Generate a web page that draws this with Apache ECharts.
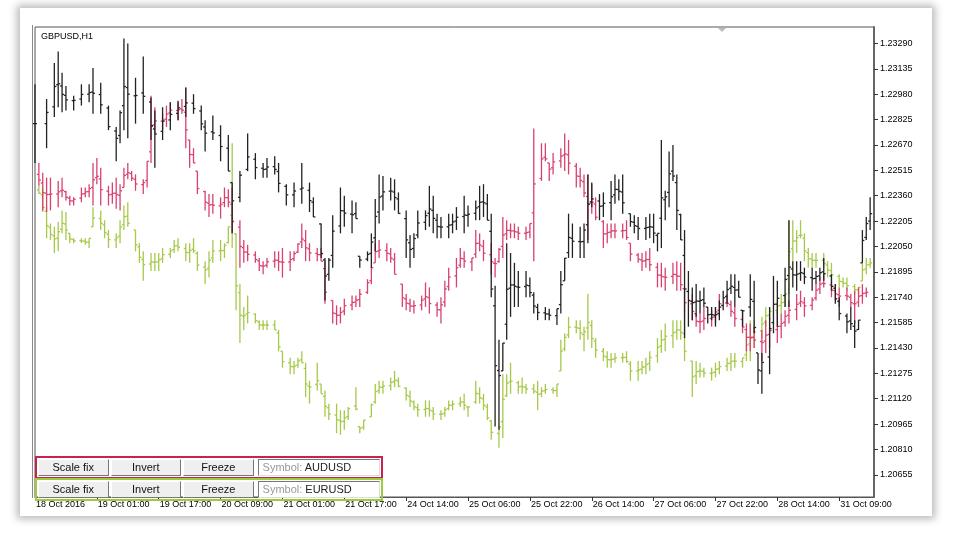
<!DOCTYPE html>
<html>
<head>
<meta charset="utf-8">
<title>GBPUSD,H1</title>
<script src="https://cdn.jsdelivr.net/npm/echarts@6/dist/echarts.min.js"></script>
<style>
  body { margin:0; background:#fff; font-family:"Liberation Sans", Arial, sans-serif; }
  #frame { position:absolute; left:20px; top:8px; width:912px; height:508px; box-shadow:0 0 8px 3px rgba(0,0,0,0.28); background:#fff; }
  #main { position:absolute; left:0; top:0; width:960px; height:540px; }
  .row { position:absolute; left:35px; width:342px; height:17px; display:flex; gap:2px; padding:1px; }
  .btn { width:70px; height:15px; background:#efefef; border:1px solid; border-color:#fff #777 #777 #fff; font-size:11px; line-height:15px; text-align:center; color:#111; }
  .sym { width:119px; height:15px; margin-left:2px; background:#fff; border:1px solid; border-color:#777 #ddd #ddd #777; font-size:11px; line-height:15px; padding-left:4px; color:#222; }
  .sym span { color:#999; }
</style>
</head>
<body>
<div id="frame"></div>
<div id="main"></div>
<div class="row" style="top:456px;border:2px solid #c8234f;">
  <div class="btn">Scale fix</div><div class="btn">Invert</div><div class="btn">Freeze</div>
  <div class="sym"><span>Symbol: </span>AUDUSD</div>
</div>
<div class="row" style="top:478px;border:2px solid #9ccb3b;">
  <div class="btn">Scale fix</div><div class="btn">Invert</div><div class="btn">Freeze</div>
  <div class="sym"><span>Symbol: </span>EURUSD</div>
</div>
<script type="text/javascript">
// bar index (hours), high, low, all on the GBPUSD price scale
var gbpBars = [
[0,1.2304,1.2256],[3,1.2295,1.2265],[5,1.2317,1.2284],[6,1.2324,1.2290],[7,1.2311,1.2287],[8,1.2303,1.2288],
[10,1.2297,1.2288],[12,1.2304,1.2291],[14,1.2304,1.2293],[15,1.2314,1.2286],[17,1.2305,1.2286],[19,1.2291,1.2276],
[21,1.2278,1.2257],[22,1.2288,1.2268],[23,1.2332,1.2276],[24,1.2329,1.2271],[26,1.2308,1.2280],[28,1.2321,1.2286],
[30,1.2296,1.2270],[31,1.2288,1.2253],[33,1.2290,1.2270],[35,1.2293,1.2276],[37,1.2294,1.2282],[39,1.2302,1.2284],
[41,1.2298,1.2286],[43,1.2291,1.2276],[44,1.2282,1.2263],[46,1.2285,1.2270],[48,1.2279,1.2257],[50,1.2273,1.2251],
[51,1.2244,1.2213],[53,1.2251,1.2232],[55,1.2274,1.2251],[57,1.2262,1.2246],[59,1.2256,1.2247],[60,1.2259,1.2247],
[62,1.2260,1.2249],[63,1.2256,1.2238],[65,1.2243,1.2230],[67,1.2244,1.2229],[69,1.2256,1.2231],[71,1.2244,1.2226],
[72,1.2235,1.2223],[74,1.2219,1.2198],[75,1.2198,1.2172],
[76,1.2198,1.2184],[77,1.2224,1.2192],[79,1.2241,1.2213],[80,1.2236,1.2217],[82,1.2233,1.2213],[83,1.2232,1.2222],
[84,1.2199,1.2192],[86,1.2202,1.2196],[87,1.2213,1.2192],[88,1.2234,1.2202],[89,1.2249,1.2219],[90,1.2248,1.2227],
[92,1.2247,1.2233],[93,1.2246,1.2227],[94,1.2238,1.2225],[96,1.2227,1.2198],[97,1.2212,1.2192],[98,1.2213,1.2198],
[99,1.2227,1.2210],[101,1.2227,1.2215],[102,1.2242,1.2217],[103,1.2236,1.2213],[104,1.2225,1.2210],[105,1.2223,1.2210],
[107,1.2225,1.2210],[108,1.2225,1.2213],[109,1.2229,1.2215],[111,1.2236,1.2213],[112,1.2230,1.2217],[114,1.2233,1.2221],
[115,1.2242,1.2221],[116,1.2243,1.2223],[117,1.2237,1.2221],[118,1.2225,1.2174],[119,1.2181,1.2095],[120,1.2148,1.2093],
[121,1.2146,1.2129],[122,1.2207,1.2148],[123,1.2201,1.2162],[124,1.2195,1.2168],[125,1.2190,1.2168],[127,1.2190,1.2174],
[128,1.2186,1.2174],[129,1.2177,1.2164],[130,1.2170,1.2160],[132,1.2168,1.2160],[133,1.2167,1.2160],[135,1.2167,1.2157],
[136,1.2190,1.2164],[137,1.2198,1.2184],[138,1.2225,1.2198],[139,1.2219,1.2198],[141,1.2217,1.2198],[142,1.2219,1.2198],
[143,1.2249,1.2207],[144,1.2244,1.2229],[146,1.2237,1.2221],[147,1.2238,1.2223],[149,1.2245,1.2221],[150,1.2249,1.2231],
[151,1.2246,1.2233],[152,1.2249,1.2225],[154,1.2225,1.2217],[155,1.2224,1.2213],[156,1.2223,1.2209],[158,1.2223,1.2209],
[159,1.2225,1.2210],[160,1.2225,1.2207],[161,1.2213,1.2202],[162,1.2270,1.2204],[163,1.2239,1.2221],[164,1.2263,1.2229],
[165,1.2267,1.2245],[166,1.2249,1.2215],[167,1.2225,1.2209],[168,1.2215,1.2149],[169,1.2190,1.2156],[170,1.2180,1.2160],
[171,1.2182,1.2162],[172,1.2178,1.2164],[173,1.2180,1.2168],[174,1.2168,1.2158],[175,1.2168,1.2160],[176,1.2168,1.2156],
[177,1.2172,1.2160],[178,1.2178,1.2166],[179,1.2184,1.2170],[180,1.2188,1.2176],[181,1.2188,1.2168],[182,1.2184,1.2174],
[183,1.2166,1.2156],[185,1.2188,1.2162],[186,1.2184,1.2152],[187,1.2140,1.2121],[188,1.2140,1.2115],[190,1.2168,1.2127],
[191,1.2187,1.2152],[192,1.2184,1.2156],[194,1.2192,1.2168],[195,1.2221,1.2168],[196,1.2196,1.2180],[197,1.2196,1.2178],
[198,1.2196,1.2184],[199,1.2192,1.2182],[201,1.2192,1.2178],[202,1.2190,1.2182],[203,1.2192,1.2184],[204,1.2198,1.2184],
[206,1.2188,1.2178],[207,1.2182,1.2170],[208,1.2174,1.2160],[210,1.2164,1.2152],[211,1.2168,1.2154],[212,1.2160,1.2143],
[213,1.2160,1.2154],[214,1.2215,1.2195],[215,1.2223,1.2209],[216,1.2235,1.2215]
];
var audBars = [
[1,1.2256,1.2242],[2,1.2250,1.2227],[3,1.2247,1.2226],[4,1.2247,1.2227],[6,1.2245,1.2229],[7,1.2247,1.2235],
[8,1.2239,1.2233],[9,1.2236,1.2230],[10,1.2235,1.2230],[12,1.2241,1.2232],[13,1.2241,1.2235],[14,1.2243,1.2235],
[15,1.2256,1.2230],[16,1.2259,1.2243],[17,1.2253,1.2230],[19,1.2242,1.2230],[20,1.2244,1.2231],[21,1.2247,1.2228],
[22,1.2243,1.2227],[23,1.2253,1.2241],[24,1.2256,1.2246],[25,1.2251,1.2245],[26,1.2249,1.2239],[28,1.2246,1.2237],
[29,1.2257,1.2241],[30,1.2297,1.2256],[31,1.2290,1.2274],[33,1.2286,1.2276],[34,1.2291,1.2278],[35,1.2293,1.2284],
[37,1.2293,1.2282],[38,1.2295,1.2286],[39,1.2302,1.2265],[40,1.2270,1.2253],[41,1.2265,1.2256],[42,1.2251,1.2237],
[44,1.2239,1.2227],[45,1.2237,1.2223],[46,1.2237,1.2225],[48,1.2235,1.2222],[49,1.2241,1.2229],[50,1.2240,1.2229],
[51,1.2241,1.2213],[53,1.2221,1.2192],[54,1.2209,1.2195],[55,1.2206,1.2196],[57,1.2202,1.2195],[58,1.2198,1.2190],
[59,1.2196,1.2188],[60,1.2198,1.2192],[62,1.2202,1.2192],[63,1.2202,1.2190],[64,1.2204,1.2186],[66,1.2202,1.2190],
[67,1.2202,1.2196],[68,1.2207,1.2201],[69,1.2219,1.2204],[70,1.2215,1.2196],[71,1.2207,1.2196],[73,1.2204,1.2196],
[74,1.2204,1.2196],[75,1.2196,1.2170],[77,1.2172,1.2158],[78,1.2169,1.2157],[79,1.2168,1.2158],[80,1.2173,1.2163],
[82,1.2175,1.2166],[83,1.2175,1.2168],[84,1.2179,1.2168],[86,1.2185,1.2176],[87,1.2193,1.2182],[88,1.2207,1.2195],
[89,1.2209,1.2198],[91,1.2207,1.2196],[92,1.2204,1.2195],[93,1.2201,1.2188],[95,1.2182,1.2168],[96,1.2176,1.2166],
[97,1.2173,1.2165],[98,1.2172,1.2164],[100,1.2175,1.2166],[101,1.2183,1.2168],[102,1.2180,1.2164],[104,1.2171,1.2162],
[105,1.2174,1.2158],[106,1.2184,1.2168],[107,1.2192,1.2178],[109,1.2198,1.2180],[110,1.2204,1.2192],[111,1.2202,1.2192],
[113,1.2198,1.2190],[114,1.2215,1.2198],[115,1.2213,1.2202],[116,1.2209,1.2196],[118,1.2207,1.2188],[119,1.2198,1.2186],
[120,1.2204,1.2195],[121,1.2223,1.2198],[122,1.2221,1.2209],[123,1.2219,1.2210],[124,1.2219,1.2210],[125,1.2217,1.2209],
[127,1.2217,1.2209],[128,1.2219,1.2210],[129,1.2277,1.2196],[131,1.2268,1.2245],[132,1.2268,1.2257],[133,1.2256,1.2245],
[134,1.2262,1.2249],[136,1.2265,1.2253],[137,1.2274,1.2251],[138,1.2270,1.2249],[140,1.2256,1.2241],[141,1.2253,1.2241],
[142,1.2249,1.2235],[143,1.2249,1.2209],[144,1.2243,1.2225],[145,1.2235,1.2221],[147,1.2221,1.2204],[148,1.2219,1.2207],
[149,1.2219,1.2210],[150,1.2219,1.2210],[152,1.2219,1.2210],[153,1.2221,1.2209],[154,1.2207,1.2196],[156,1.2201,1.2195],
[157,1.2201,1.2190],[158,1.2202,1.2192],[159,1.2204,1.2190],[161,1.2195,1.2180],[162,1.2195,1.2180],[163,1.2192,1.2178],
[165,1.2195,1.2182],[166,1.2196,1.2178],[167,1.2195,1.2178],[168,1.2180,1.2164],[170,1.2176,1.2160],[171,1.2164,1.2156],
[172,1.2164,1.2152],[173,1.2168,1.2154],[175,1.2166,1.2156],[176,1.2168,1.2158],[177,1.2176,1.2162],[179,1.2176,1.2168],
[180,1.2172,1.2162],[181,1.2168,1.2156],[183,1.2166,1.2152],[184,1.2158,1.2141],[185,1.2158,1.2141],[186,1.2156,1.2143],
[188,1.2154,1.2135],[189,1.2160,1.2140],[190,1.2162,1.2143],[192,1.2166,1.2146],[193,1.2164,1.2149],[194,1.2166,1.2156],
[195,1.2172,1.2158],[197,1.2176,1.2160],[198,1.2178,1.2168],[199,1.2174,1.2162],[201,1.2174,1.2166],[202,1.2182,1.2172],
[203,1.2186,1.2176],[204,1.2188,1.2180],[206,1.2184,1.2174],[207,1.2182,1.2172],[208,1.2180,1.2168],[210,1.2180,1.2172],
[211,1.2176,1.2168],[212,1.2178,1.2158],[213,1.2180,1.2168],[214,1.2182,1.2170],[215,1.2180,1.2174]
];
var eurBars = [
[1,1.2242,1.2237],[2,1.2241,1.2226],[3,1.2229,1.2210],[4,1.2219,1.2209],[5,1.2217,1.2201],[6,1.2220,1.2202],
[7,1.2227,1.2213],[8,1.2226,1.2209],[9,1.2213,1.2207],[10,1.2210,1.2207],[12,1.2210,1.2207],[13,1.2210,1.2206],
[14,1.2210,1.2204],[15,1.2229,1.2217],[17,1.2227,1.2215],[18,1.2221,1.2210],[19,1.2215,1.2204],[21,1.2213,1.2204],
[22,1.2221,1.2207],[23,1.2230,1.2215],[24,1.2232,1.2217],[26,1.2215,1.2202],[27,1.2207,1.2195],[28,1.2202,1.2184],
[30,1.2201,1.2190],[31,1.2201,1.2190],[32,1.2201,1.2190],[33,1.2204,1.2195],[35,1.2204,1.2198],[36,1.2209,1.2201],
[37,1.2210,1.2202],[39,1.2207,1.2196],[40,1.2207,1.2195],[41,1.2210,1.2201],[42,1.2202,1.2190],[44,1.2196,1.2182],
[45,1.2202,1.2186],[46,1.2209,1.2195],[48,1.2209,1.2196],[49,1.2207,1.2198],[50,1.2217,1.2207],[51,1.2268,1.2204],
[52,1.2213,1.2166],[53,1.2182,1.2146],[54,1.2168,1.2154],[55,1.2175,1.2158],[57,1.2164,1.2158],[58,1.2160,1.2154],
[59,1.2160,1.2154],[60,1.2160,1.2154],[62,1.2160,1.2154],[63,1.2154,1.2141],[64,1.2141,1.2131],[66,1.2137,1.2127],
[67,1.2135,1.2127],[68,1.2137,1.2131],[69,1.2141,1.2134],[70,1.2134,1.2113],[71,1.2123,1.2109],[73,1.2134,1.2117],
[74,1.2121,1.2115],[75,1.2117,1.2101],[76,1.2109,1.2099],[78,1.2109,1.2091],[79,1.2105,1.2090],[80,1.2105,1.2093],
[81,1.2107,1.2099],[83,1.2119,1.2105],[84,1.2095,1.2091],[85,1.2099,1.2093],[87,1.2109,1.2101],[88,1.2121,1.2109],
[89,1.2123,1.2115],[90,1.2123,1.2115],[92,1.2125,1.2117],[93,1.2129,1.2119],[94,1.2125,1.2119],[96,1.2119,1.2111],
[97,1.2117,1.2107],[98,1.2111,1.2105],[99,1.2109,1.2101],[101,1.2111,1.2101],[102,1.2111,1.2101],[103,1.2107,1.2099],
[105,1.2105,1.2099],[106,1.2107,1.2101],[107,1.2111,1.2105],[108,1.2111,1.2105],[110,1.2113,1.2107],[111,1.2115,1.2105],
[112,1.2107,1.2101],[114,1.2123,1.2109],[115,1.2119,1.2109],[116,1.2115,1.2105],[117,1.2109,1.2099],[118,1.2099,1.2087],
[120,1.2095,1.2082],[121,1.2127,1.2088],[122,1.2127,1.2113],[123,1.2134,1.2115],[125,1.2123,1.2115],[126,1.2125,1.2115],
[127,1.2121,1.2115],[129,1.2121,1.2115],[130,1.2123,1.2105],[131,1.2119,1.2113],[132,1.2121,1.2115],[134,1.2119,1.2115],
[135,1.2121,1.2113],[136,1.2148,1.2129],[137,1.2152,1.2141],[138,1.2162,1.2149],[140,1.2160,1.2152],[141,1.2160,1.2148],
[142,1.2156,1.2141],[143,1.2176,1.2148],[144,1.2160,1.2143],[145,1.2149,1.2137],[147,1.2143,1.2135],[148,1.2141,1.2131],
[149,1.2140,1.2131],[150,1.2140,1.2134],[152,1.2140,1.2134],[153,1.2141,1.2134],[154,1.2135,1.2123],[156,1.2135,1.2123],
[157,1.2135,1.2127],[158,1.2137,1.2127],[159,1.2141,1.2129],[161,1.2149,1.2134],[162,1.2154,1.2140],[163,1.2158,1.2141],
[165,1.2160,1.2143],[166,1.2160,1.2148],[167,1.2160,1.2148],[168,1.2164,1.2135],[170,1.2135,1.2113],[171,1.2135,1.2121],
[172,1.2134,1.2125],[173,1.2131,1.2125],[175,1.2131,1.2123],[176,1.2134,1.2125],[177,1.2135,1.2127],[179,1.2137,1.2129],
[180,1.2140,1.2129],[181,1.2140,1.2131],[183,1.2137,1.2131],[184,1.2152,1.2135],[185,1.2160,1.2135],[186,1.2160,1.2143],
[188,1.2162,1.2149],[189,1.2168,1.2156],[190,1.2168,1.2160],[192,1.2172,1.2164],[193,1.2176,1.2164],[194,1.2176,1.2168],
[195,1.2221,1.2176],[196,1.2221,1.2196],[197,1.2215,1.2201],[198,1.2221,1.2210],[199,1.2213,1.2196],[200,1.2204,1.2192],
[201,1.2201,1.2192],[202,1.2201,1.2192],[204,1.2201,1.2192],[205,1.2196,1.2186],[206,1.2195,1.2184],[208,1.2188,1.2180],
[209,1.2186,1.2180],[210,1.2186,1.2178],[212,1.2182,1.2176],[213,1.2180,1.2176],[214,1.2195,1.2184],[215,1.2198,1.2188],
[216,1.2198,1.2192]
];
var xLabels = ['18 Oct 2016','19 Oct 01:00','19 Oct 17:00','20 Oct 09:00','21 Oct 01:00','21 Oct 17:00','24 Oct 14:00',
  '25 Oct 06:00','25 Oct 22:00','26 Oct 14:00','27 Oct 06:00','27 Oct 22:00','28 Oct 14:00','31 Oct 09:00'];
var yTicks = [1.20655,1.20810,1.20965,1.21120,1.21275,1.21430,1.21585,1.21740,1.21895,1.22050,
  1.22205,1.22360,1.22515,1.22670,1.22825,1.22980,1.23135,1.23290];

// open/close ticks: open at previous bar's middle, close leaning to the next bar
function withTicks(bars) {
    return bars.map(function (b, i) {
        var mid = (b[1] + b[2]) / 2;
        var prev = i > 0 ? (bars[i-1][1] + bars[i-1][2]) / 2 : mid;
        var next = i < bars.length - 1 ? (bars[i+1][1] + bars[i+1][2]) / 2 : mid;
        var o = Math.min(b[1], Math.max(b[2], (prev + mid) / 2));
        var c = Math.min(b[1], Math.max(b[2], (mid * 2 + next) / 3));
        return [b[0], b[1], b[2], o, c];
    });
}

function ohlc(name, bars, color, w) {
    return {
        name: name, type: 'custom', data: withTicks(bars),
        encode: { x: 0, y: [1, 2] },
        renderItem: function (params, api) {
            var h = api.value(0);
            var hi = api.coord([h, api.value(1)]);
            var lo = api.coord([h, api.value(2)]);
            var o = api.coord([h, api.value(3)]);
            var c = api.coord([h, api.value(4)]);
            var st = { stroke: color, lineWidth: w };
            return { type: 'group', children: [
                { type: 'line', shape: { x1: hi[0], y1: hi[1], x2: lo[0], y2: lo[1] }, style: st },
                { type: 'line', shape: { x1: o[0] - 2, y1: o[1], x2: o[0], y2: o[1] }, style: st },
                { type: 'line', shape: { x1: c[0], y1: c[1], x2: c[0] + 2, y2: c[1] }, style: st }
            ]};
        }
    };
}

var myChart = echarts.init(document.getElementById('main'));
myChart.setOption({
    animation: false,
    title: { text: 'GBPUSD,H1', left: 36, top: 27, textStyle: { fontSize: 9, fontWeight: 'normal', color: '#000', fontFamily: 'Liberation Sans' } },
    grid: { left: 35, right: 86, top: 27, bottom: 43, show: true, borderColor: '#555', borderWidth: 1 },
    xAxis: {
        type: 'value', min: 0, max: 217, interval: 16,
        axisLine: { show: true, onZero: false, lineStyle: { color: '#555' } },
        axisTick: { show: true, length: 4, lineStyle: { color: '#333' } },
        axisLabel: { align: 'left', margin: 3, padding: [0, 0, 0, 1], fontSize: 9, color: '#000', fontFamily: 'Liberation Sans',
            showMaxLabel: false,
            formatter: function (v) { return v % 16 === 0 ? (xLabels[v / 16] || '') : ''; } },
        splitLine: { show: false }
    },
    yAxis: {
        type: 'value', position: 'right', min: 1.2052, max: 1.2339,
        axisLine: { show: true, onZero: false, lineStyle: { color: '#666', width: 2 } },
        axisTick: { show: true, length: 4, customValues: yTicks, lineStyle: { color: '#333' } },
        axisLabel: { customValues: yTicks, margin: 6, fontSize: 9, color: '#000', fontFamily: 'Liberation Sans',
            formatter: function (v) { return v.toFixed(5); } },
        splitLine: { show: false }
    },
    graphic: [
        { type: 'line', shape: { x1: 32.5, y1: 25, x2: 32.5, y2: 498 }, style: { stroke: '#888', lineWidth: 1 } },
        { type: 'polygon', shape: { points: [[718, 28], [726, 28], [722, 32]] }, style: { fill: '#bbb' } }
    ],
    series: [
        ohlc('EURUSD', eurBars, '#a6c94a', 1.3),
        ohlc('AUDUSD', audBars, '#d9416f', 1.3),
        ohlc('GBPUSD', gbpBars, '#222', 1.3)
    ]
});
</script>
</body>
</html>
